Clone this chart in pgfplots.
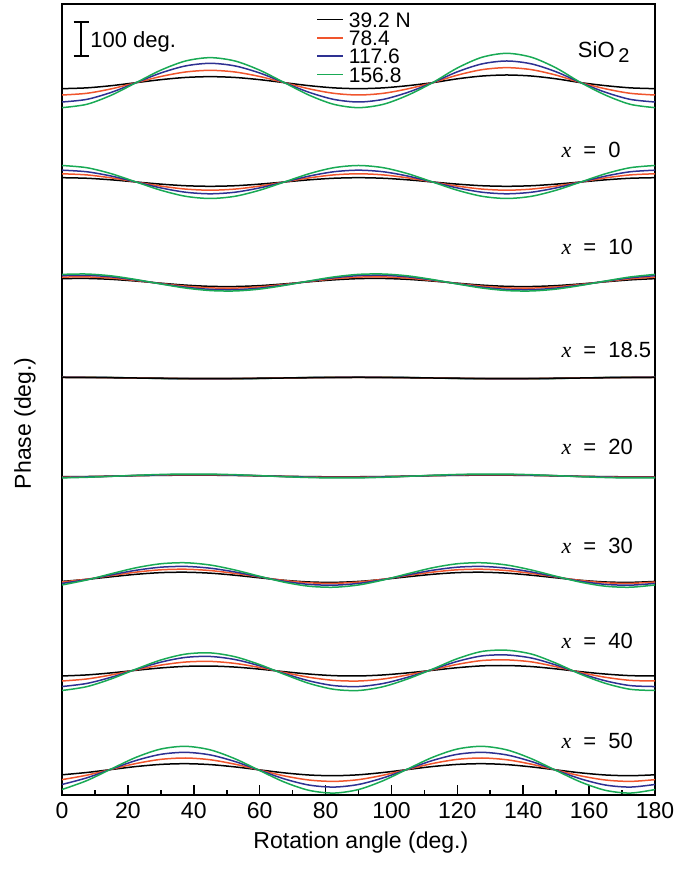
\documentclass[border=0pt]{standalone}
\usepackage{fontspec}
\setmainfont{Liberation Sans}
\newfontfamily\serifit{Liberation Serif}
\usepackage{pgfplots}
\usepackage{pgfplotstable}
\pgfplotsset{compat=1.18}

\definecolor{lorange}{RGB}{240,85,45}
\definecolor{lblue}{RGB}{46,49,146}
\definecolor{lgreen}{RGB}{25,170,85}
\newcommand\annfont{\fontsize{10.5}{11}\selectfont}
\newcommand\xfont{\fontsize{11}{12}\selectfont}
\newcommand\xeq[1]{{\serifit\itshape x}\hspace{0.55em}=\hspace{0.55em}#1}

% phase in deg., each sample offset for display; columns: angle, 39.2, 78.4, 117.6, 156.8 N
\pgfplotstableread{
ang k o b g
0 2134 2115 2094 2077
7.5 2136.4 2120 2101.8 2087
15 2143 2133.5 2123 2114.5
22.5 2152 2152 2152 2152
30 2161 2170.5 2181 2189.5
37.5 2167.6 2184 2202.2 2217
45 2170 2189 2210 2227
52.5 2167.6 2184 2202.2 2217
60 2161 2170.5 2181 2189.5
67.5 2152 2152 2152 2152
75 2143 2133.5 2123 2114.5
82.5 2136.4 2120 2101.8 2087
90 2134 2115 2094 2077
97.5 2136.4 2120 2101.8 2087
105 2143 2133.5 2123 2114.5
112.5 2152 2152 2152 2152
120 2163.5 2174.5 2184.5 2196
127.5 2171.9 2191 2208.3 2228.2
135 2175 2197 2217 2240
142.5 2171.9 2191 2208.3 2228.2
150 2163.5 2174.5 2184.5 2196
157.5 2152 2152 2152 2152
165 2143 2133.5 2123 2114.5
172.5 2136.4 2120 2101.8 2087
180 2134 2115 2094 2077
}\tsio

\pgfplotstableread{
ang k o b g
0 1866.9 1878.6 1889.4 1903.5
7.5 1865.2 1875.3 1884.7 1896.9
15 1860.5 1866.3 1871.7 1878.8
22.5 1854 1854 1854 1854
30 1847.6 1841.7 1836.3 1829.3
37.5 1842.8 1832.7 1823.3 1811.1
45 1841.1 1829.4 1818.6 1804.5
52.5 1842.8 1832.7 1823.3 1811.1
60 1847.6 1841.7 1836.3 1829.3
67.5 1854 1854 1854 1854
75 1860.5 1866.3 1871.7 1878.8
82.5 1865.2 1875.3 1884.7 1896.9
90 1866.9 1878.6 1889.4 1903.5
97.5 1865.2 1875.3 1884.7 1896.9
105 1860.5 1866.3 1871.7 1878.8
112.5 1854 1854 1854 1854
120 1847.6 1841.7 1836.3 1829.3
127.5 1842.8 1832.7 1823.3 1811.1
135 1841.1 1829.4 1818.6 1804.5
142.5 1842.8 1832.7 1823.3 1811.1
150 1847.6 1841.7 1836.3 1829.3
157.5 1854 1854 1854 1854
165 1860.5 1866.3 1871.7 1878.8
172.5 1865.2 1875.3 1884.7 1896.9
180 1866.9 1878.6 1889.4 1903.5
}\tzero

\pgfplotstableread{
ang k o b g
0 1564.1 1568.6 1573.1 1576.8
7.5 1564.6 1569.3 1574.1 1577.9
15 1561.9 1565.6 1569.3 1572.3
22.5 1556.7 1558.3 1560.0 1561.3
30 1550.4 1549.5 1548.7 1548.0
37.5 1544.6 1541.5 1538.4 1535.9
45 1540.9 1536.4 1531.9 1528.3
52.5 1540.4 1535.7 1530.9 1527.1
60 1543.1 1539.4 1535.7 1532.7
67.5 1548.3 1546.7 1545.0 1543.7
75 1554.6 1555.5 1556.3 1557.0
82.5 1560.4 1563.5 1566.6 1569.1
90 1564.1 1568.6 1573.1 1576.8
97.5 1564.6 1569.3 1574.1 1577.9
105 1561.9 1565.6 1569.3 1572.3
112.5 1556.7 1558.3 1560.0 1561.3
120 1550.4 1549.5 1548.7 1548.0
127.5 1544.6 1541.5 1538.4 1535.9
135 1540.9 1536.4 1531.9 1528.3
142.5 1540.4 1535.7 1530.9 1527.1
150 1543.1 1539.4 1535.7 1532.7
157.5 1548.3 1546.7 1545.0 1543.7
165 1554.6 1555.5 1556.3 1557.0
172.5 1560.4 1563.5 1566.6 1569.1
180 1564.1 1568.6 1573.1 1576.8
}\tten

\pgfplotstableread{
ang k o b g
0 1267.5 1268 1268.5 1269
7.5 1267.3 1267.7 1268.2 1268.6
15 1266.8 1267 1267.3 1267.5
22.5 1266 1266 1266 1266
30 1265.3 1265 1264.8 1264.5
37.5 1264.7 1264.3 1263.8 1263.4
45 1264.5 1264 1263.5 1263
52.5 1264.7 1264.3 1263.8 1263.4
60 1265.3 1265 1264.8 1264.5
67.5 1266 1266 1266 1266
75 1266.8 1267 1267.3 1267.5
82.5 1267.3 1267.7 1268.2 1268.6
90 1267.5 1268 1268.5 1269
97.5 1267.3 1267.7 1268.2 1268.6
105 1266.8 1267 1267.3 1267.5
112.5 1266 1266 1266 1266
120 1265.3 1265 1264.8 1264.5
127.5 1264.7 1264.3 1263.8 1263.4
135 1264.5 1264 1263.5 1263
142.5 1264.7 1264.3 1263.8 1263.4
150 1265.3 1265 1264.8 1264.5
157.5 1266 1266 1266 1266
165 1266.8 1267 1267.3 1267.5
172.5 1267.3 1267.7 1268.2 1268.6
180 1267.5 1268 1268.5 1269
}\teighteen

\pgfplotstableread{
ang k o b g
0 969.7 968.7 967.8 966.4
7.5 970.4 969.7 969.1 968.1
15 971.6 971.4 971.2 971.0
22.5 972.9 973.2 973.5 974.1
30 973.9 974.7 975.4 976.6
37.5 974.5 975.4 976.4 977.9
45 974.4 975.3 976.2 977.6
52.5 973.6 974.3 974.9 975.9
60 972.4 972.6 972.8 973.0
67.5 971.1 970.8 970.5 969.9
75 970.1 969.3 968.6 967.4
82.5 969.5 968.6 967.6 966.1
90 969.7 968.7 967.8 966.4
97.5 970.4 969.7 969.1 968.1
105 971.6 971.4 971.2 971.0
112.5 972.9 973.2 973.5 974.1
120 973.9 974.7 975.4 976.6
127.5 974.5 975.4 976.4 977.9
135 974.4 975.3 976.2 977.6
142.5 973.6 974.3 974.9 975.9
150 972.4 972.6 972.8 973.0
157.5 971.1 970.8 970.5 969.9
165 970.1 969.3 968.6 967.4
172.5 969.5 968.6 967.6 966.1
180 969.7 968.7 967.8 966.4
}\ttwenty

\pgfplotstableread{
ang k o b g
0 655.7 653.9 649.8 645.1
7.5 661.9 662.4 661.1 660.0
15 669.7 673.3 675.6 678.9
22.5 677.1 683.6 689.2 696.7
30 682.1 690.6 698.4 708.7
37.5 683.3 692.3 700.7 711.7
45 680.5 688.3 695.4 704.9
52.5 674.3 679.8 684.1 690.0
60 666.5 668.9 669.6 671.1
67.5 659.1 658.6 656.0 653.3
75 654.1 651.6 646.8 641.3
82.5 652.9 649.9 644.5 638.3
90 655.7 653.9 649.8 645.1
97.5 661.9 662.4 661.1 660.0
105 669.7 673.3 675.6 678.9
112.5 677.1 683.6 689.2 696.7
120 682.1 690.6 698.4 708.7
127.5 683.3 692.3 700.7 711.7
135 680.5 688.3 695.4 704.9
142.5 674.3 679.8 684.1 690.0
150 666.5 668.9 669.6 671.1
157.5 659.1 658.6 656.0 653.3
165 654.1 651.6 646.8 641.3
172.5 652.9 649.9 644.5 638.3
180 655.7 653.9 649.8 645.1
}\tthirty

\pgfplotstableread{
ang k o b g
0 372.1 357.0 340.4 328.5
7.5 375.2 363.0 349.6 340.0
15 381.4 375.3 368.4 363.5
22.5 389.1 390.5 391.8 392.8
30 396.2 404.7 413.6 420.0
37.5 400.9 413.9 427.8 437.7
45 401.9 415.8 430.6 441.3
52.5 398.8 409.8 421.4 429.8
60 392.6 397.5 402.6 406.3
67.5 384.9 382.3 379.2 377.0
75 377.8 368.1 357.4 349.8
82.5 373.1 358.9 343.2 332.1
90 372.1 357.0 340.4 328.5
97.5 375.2 363.0 349.6 340.0
105 381.4 375.3 368.4 363.5
112.5 389.1 390.5 391.8 392.8
120 396.9 406.9 415.8 424.0
127.5 402.4 418.4 432.3 445.7
135 403.4 420.3 435.1 449.3
142.5 400.3 414.3 425.9 437.8
150 393.3 399.7 404.8 410.3
157.5 384.9 382.3 379.2 377.0
165 377.8 368.1 357.4 349.8
172.5 373.1 358.9 343.2 332.1
180 372.1 357.0 340.4 328.5
}\tforty

\pgfplotstableread{
ang k o b g
0 75.6 61.1 46.6 31.4
7.5 82.5 74.4 66.4 58.0
15 91.5 92.1 92.7 93.4
22.5 100.4 109.5 118.6 128.1
30 106.8 121.9 137.0 152.9
37.5 108.9 126.0 143.0 161.0
45 106.2 120.7 135.2 150.4
52.5 99.3 107.4 115.4 123.8
60 90.3 89.7 89.1 88.4
67.5 81.4 72.3 63.2 53.7
75 75.0 59.9 44.8 28.9
82.5 72.9 55.8 38.8 20.8
90 75.6 61.1 46.6 31.4
97.5 82.5 74.4 66.4 58.0
105 91.5 92.1 92.7 93.4
112.5 100.4 109.5 118.6 128.1
120 106.8 121.9 137.0 152.9
127.5 108.9 126.0 143.0 161.0
135 106.2 120.7 135.2 150.4
142.5 99.3 107.4 115.4 123.8
150 90.3 89.7 89.1 88.4
157.5 81.4 72.3 63.2 53.7
165 75.0 59.9 44.8 28.9
172.5 72.9 55.8 38.8 20.8
180 75.6 61.1 46.6 31.4
}\tfifty

\pgfplotsset{
  ck/.style={black, line width=0.75pt, smooth},
  co/.style={lorange, line width=0.75pt, smooth},
  cb/.style={lblue, line width=0.75pt, smooth},
  cg/.style={lgreen, line width=0.75pt, smooth},
}

\begin{document}
\begin{tikzpicture}
\path[use as bounding box] (-31pt,-43pt) rectangle (317.5pt,397.5pt);
\begin{axis}[
  at={(0,0)}, anchor=south west,
  width=296.5pt, height=395.5pt, scale only axis,
  xmin=0, xmax=180, ymin=15, ymax=2388,
  xtick={0,20,...,180}, minor x tick num=1,
  ytick=\empty, minor ytick={46.7,144.8,...,2380},
  xtick pos=left, tick align=inside,
  major tick length=5pt, minor tick length=2.5pt,
  every tick/.style={black, line width=0.8pt},
  axis line style={line width=1.2pt},
  tick label style={font=\fontsize{11.5}{12}\selectfont},
  label style={font=\fontsize{11.5}{12}\selectfont},
  /pgf/number format/assume math mode=true,
  xlabel={Rotation angle (deg.)},
  ylabel={Phase (deg.)},
  xlabel style={at={(axis description cs:0.504,-0.0607)}, anchor=center},
  ylabel style={at={(axis description cs:-0.0624,0.47)}, anchor=center},
  legend cell align=left,
  legend image code/.code={\draw[#1] (0pt,0pt) -- (13pt,0pt);},
  legend style={at={(axis description cs:0.4283,0.9906)}, anchor=north west,
    draw=none, fill=none, inner sep=0pt, row sep=1.6pt,
    font=\annfont,
    nodes={inner xsep=2.5pt, inner ysep=0pt, text height=7.6pt, text depth=0pt}},
]
% SiO2
\addplot[ck] table[x=ang, y=k] {\tsio}; \addlegendentry{39.2 N}
\addplot[co] table[x=ang, y=o] {\tsio}; \addlegendentry{78.4}
\addplot[cb] table[x=ang, y=b] {\tsio}; \addlegendentry{117.6}
\addplot[cg] table[x=ang, y=g] {\tsio}; \addlegendentry{156.8}
% x = 0
\addplot[ck, forget plot] table[x=ang, y=k] {\tzero};
\addplot[co, forget plot] table[x=ang, y=o] {\tzero};
\addplot[cb, forget plot] table[x=ang, y=b] {\tzero};
\addplot[cg, forget plot] table[x=ang, y=g] {\tzero};
% x = 10
\addplot[ck, forget plot] table[x=ang, y=k] {\tten};
\addplot[co, forget plot] table[x=ang, y=o] {\tten};
\addplot[cb, forget plot] table[x=ang, y=b] {\tten};
\addplot[cg, forget plot] table[x=ang, y=g] {\tten};
% x = 18.5 (black ends up on top)
\addplot[cg, forget plot] table[x=ang, y=g] {\teighteen};
\addplot[cb, forget plot] table[x=ang, y=b] {\teighteen};
\addplot[co, forget plot] table[x=ang, y=o] {\teighteen};
\addplot[ck, forget plot] table[x=ang, y=k] {\teighteen};
% x = 20
\addplot[ck, forget plot] table[x=ang, y=k] {\ttwenty};
\addplot[co, forget plot] table[x=ang, y=o] {\ttwenty};
\addplot[cb, forget plot] table[x=ang, y=b] {\ttwenty};
\addplot[cg, forget plot] table[x=ang, y=g] {\ttwenty};
% x = 30
\addplot[ck, forget plot] table[x=ang, y=k] {\tthirty};
\addplot[co, forget plot] table[x=ang, y=o] {\tthirty};
\addplot[cb, forget plot] table[x=ang, y=b] {\tthirty};
\addplot[cg, forget plot] table[x=ang, y=g] {\tthirty};
% x = 40
\addplot[ck, forget plot] table[x=ang, y=k] {\tforty};
\addplot[co, forget plot] table[x=ang, y=o] {\tforty};
\addplot[cb, forget plot] table[x=ang, y=b] {\tforty};
\addplot[cg, forget plot] table[x=ang, y=g] {\tforty};
% x = 50
\addplot[ck, forget plot] table[x=ang, y=k] {\tfifty};
\addplot[co, forget plot] table[x=ang, y=o] {\tfifty};
\addplot[cb, forget plot] table[x=ang, y=b] {\tfifty};
\addplot[cg, forget plot] table[x=ang, y=g] {\tfifty};

% 100 deg. scale bar
\draw[line width=1.1pt] (axis cs:5.77,2233) -- (axis cs:5.77,2333);
\draw[line width=1.1pt] (axis cs:5.77,2233) ++(-3.75pt,0pt) -- ++(7.5pt,0pt);
\draw[line width=1.1pt] (axis cs:5.77,2333) ++(-3.75pt,0pt) -- ++(7.5pt,0pt);
\node[anchor=base west, inner sep=0pt, font=\xfont] at (axis cs:8.5,2256) {100 deg.};

% sample labels
\node[anchor=base west, inner sep=0pt, font=\xfont] at (axis cs:156.5,2226) {SiO\,\raisebox{-0.4ex}{\fontsize{10}{10}\selectfont 2}};
\node[anchor=west, inner sep=0pt, font=\xfont] at (axis cs:151.5,1950) {\xeq{0}};
\node[anchor=west, inner sep=0pt, font=\xfont] at (axis cs:151.5,1659) {\xeq{10}};
\node[anchor=west, inner sep=0pt, font=\xfont] at (axis cs:151.5,1350) {\xeq{18.5}};
\node[anchor=west, inner sep=0pt, font=\xfont] at (axis cs:151.5,1060) {\xeq{20}};
\node[anchor=west, inner sep=0pt, font=\xfont] at (axis cs:151.5,762) {\xeq{30}};
\node[anchor=west, inner sep=0pt, font=\xfont] at (axis cs:151.5,477) {\xeq{40}};
\node[anchor=west, inner sep=0pt, font=\xfont] at (axis cs:151.5,177) {\xeq{50}};
\end{axis}
\end{tikzpicture}
\end{document}
